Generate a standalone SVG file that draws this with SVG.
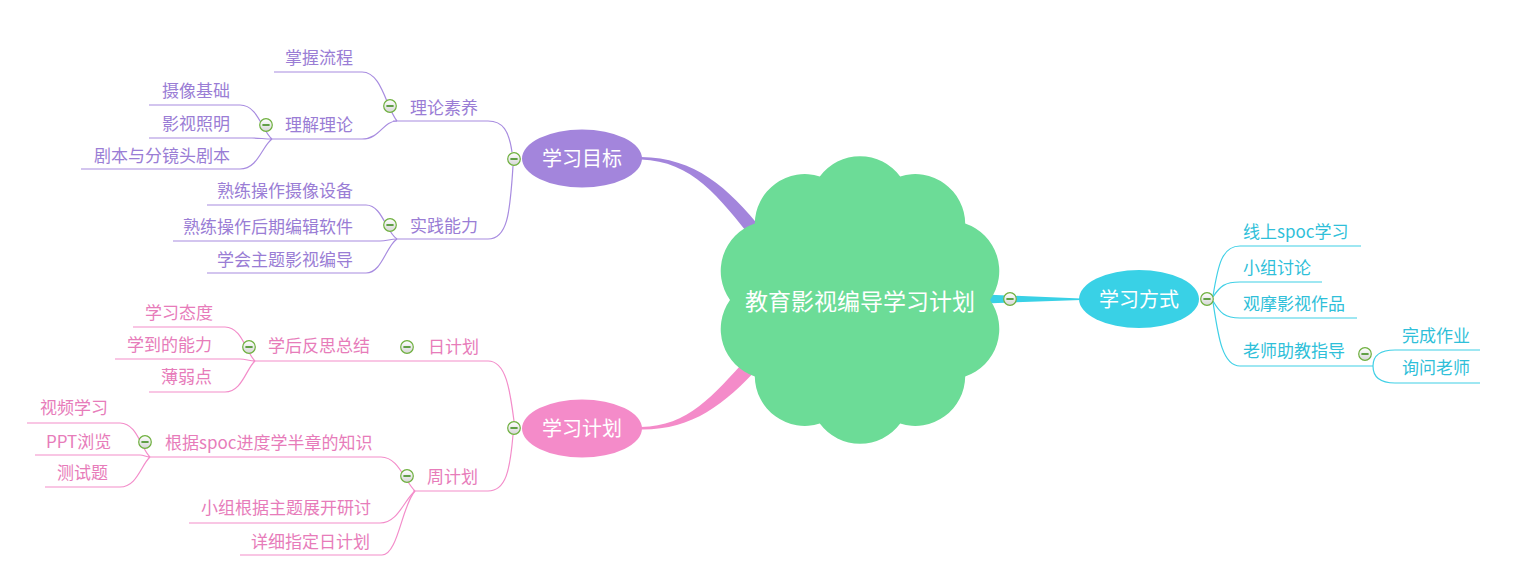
<svg xmlns="http://www.w3.org/2000/svg" xmlns:xlink="http://www.w3.org/1999/xlink" width="1519" height="581" viewBox="0 0 1519 581">
<style>
text{font-family:"Noto Sans CJK SC","Noto Sans",sans-serif;}
.t{font-size:17px;}
.tp{fill:#9a7dd5;}
.tk{fill:#e77cba;}
.tc{fill:#2fbfd9;}
.big{font-size:20px;fill:#ffffff;text-anchor:middle;}
.lp{fill:none;stroke:#a88ce0;stroke-width:1.2;}
.lk{fill:none;stroke:#f38dca;stroke-width:1.2;}
.lc{fill:none;stroke:#3fd0e6;stroke-width:1.2;}
</style>
<defs>
<linearGradient id="cg" x1="0" y1="0" x2="0" y2="1">
<stop offset="0" stop-color="#ffffff"/>
<stop offset="1" stop-color="#d6d6d6"/>
</linearGradient>
<g id="col">
<circle cx="0" cy="0" r="6.3" fill="url(#cg)" stroke="#6fb03f" stroke-width="1.2"/>
<line x1="-3.6" y1="0" x2="3.6" y2="0" stroke="#3f8d1e" stroke-width="1.6"/>
</g>
</defs>
<rect width="1519" height="581" fill="#ffffff"/>

<g id="connectors">
<!-- main tapered branches -->
<path d="M641,157 C695,158 727,186 764,232 L754,241 C719,197 692,161 641,159.5 Z" fill="#a385dc"/>
<path d="M641,427 C688,426 713,396 748,357 L760,366 C724,405 692,430 641,429.5 Z" fill="#f48bc9"/>
<path d="M985,294.5 L1081,298.5 L1081,300 L985,303.5 Z" fill="#39d1e6"/>

<!-- purple subtree -->
<path class="lp" d="M393,121 H488 C503,121 509,131 512,152"/>
<path class="lp" d="M397,239 H488 C507,239 510,215 513,166"/>
<path class="lp" d="M274,72 H362 C382,72 386,108 397,121"/>
<path class="lp" d="M270,139 H362 C380,139 383,121 397,121"/>
<path class="lp" d="M149,105 H240 C258,105 262,131 272,139"/>
<path class="lp" d="M149,138 H252 C260,138 264,139 272,139"/>
<path class="lp" d="M81,169 H240 C258,169 262,146 272,139"/>
<path class="lp" d="M207,205 H366 C382,205 386,232 397,239"/>
<path class="lp" d="M173,241 H380 C387,241 390,239 397,239"/>
<path class="lp" d="M207,273 H366 C382,273 386,246 397,239"/>

<!-- pink subtree -->
<path class="lk" d="M253,361 H488 C506,361 510,390 514,421"/>
<path class="lk" d="M413,491 H488 C506,491 510,470 513,435"/>
<path class="lk" d="M133,327 H225 C242,327 246,353 255,361"/>
<path class="lk" d="M115,359 H240 C246,359 249,361 255,361"/>
<path class="lk" d="M149,392 H225 C242,392 246,369 255,361"/>
<path class="lk" d="M148,457 H381 C398,457 404,480 415,491"/>
<path class="lk" d="M189,523 H380 C398,523 404,500 415,491"/>
<path class="lk" d="M240,555 H382 C398,555 402,505 415,491"/>
<path class="lk" d="M27,423 H120 C137,423 141,449 150,457"/>
<path class="lk" d="M35,455 H140 C144,455 146,457 150,457"/>
<path class="lk" d="M45,487 H120 C137,487 141,465 150,457"/>

<!-- cyan subtree -->
<path class="lc" d="M1213,296 C1218,265 1222,246 1240,246 H1361"/>
<path class="lc" d="M1213,297 C1220,286 1225,282 1240,282 H1322"/>
<path class="lc" d="M1213,301 C1220,313 1225,318 1240,318 H1357"/>
<path class="lc" d="M1213,302 C1218,335 1222,366 1240,366 H1373"/>
<path class="lc" d="M1480,350 H1395 C1380,350 1373,355 1373,366 C1373,377 1380,383 1395,383 H1480"/>
</g>

<g id="central">
<path d="M990,300 A50,50 0 0 1 965.2,376.4 A50,50 0 0 1 900.2,423.6 A50,50 0 0 1 819.8,423.6 A50,50 0 0 1 754.8,376.4 A50,50 0 0 1 730,300 A50,50 0 0 1 754.8,223.6 A50,50 0 0 1 819.8,176.4 A50,50 0 0 1 900.2,176.4 A50,50 0 0 1 965.2,223.6 A50,50 0 0 1 990,300 Z" fill="#6cdc97"/>
<text x="860" y="310" style="font-size:23px;fill:#ffffff;text-anchor:middle;">教育影视编导学习计划</text>
</g>

<g id="n-mubiao">
<ellipse cx="582" cy="158.5" rx="60" ry="29" fill="#a385dc"/>
<text class="big" x="582" y="166">学习目标</text>
</g>
<g id="n-jihua">
<ellipse cx="582" cy="428.5" rx="60" ry="29" fill="#f48bc9"/>
<text class="big" x="582" y="435.5">学习计划</text>
</g>
<g id="n-fangshi">
<ellipse cx="1139" cy="299" rx="60" ry="29" fill="#39d1e6"/>
<text class="big" x="1139" y="307">学习方式</text>
</g>

<g id="n-lilun"><text class="t tp" x="410" y="114">理论素养</text></g>
<g id="n-zhangwo"><text class="t tp" x="285" y="64">掌握流程</text></g>
<g id="n-lijie"><text class="t tp" x="285" y="131">理解理论</text></g>
<g id="n-shexiang"><text class="t tp" x="162" y="97">摄像基础</text></g>
<g id="n-zhaoming"><text class="t tp" x="162" y="130">影视照明</text></g>
<g id="n-juben"><text class="t tp" x="94" y="162">剧本与分镜头剧本</text></g>
<g id="n-shijian"><text class="t tp" x="410" y="232">实践能力</text></g>
<g id="n-shebei"><text class="t tp" x="217" y="197">熟练操作摄像设备</text></g>
<g id="n-ruanjian"><text class="t tp" x="183" y="233">熟练操作后期编辑软件</text></g>
<g id="n-biandao"><text class="t tp" x="217" y="266">学会主题影视编导</text></g>

<g id="n-ri"><text class="t tk" x="428" y="353">日计划</text></g>
<g id="n-fansi"><text class="t tk" x="268" y="352">学后反思总结</text></g>
<g id="n-taidu"><text class="t tk" x="145" y="319">学习态度</text></g>
<g id="n-nengli"><text class="t tk" x="127" y="351">学到的能力</text></g>
<g id="n-boruo"><text class="t tk" x="161" y="383">薄弱点</text></g>
<g id="n-zhou"><text class="t tk" x="427" y="483">周计划</text></g>
<g id="n-spoc"><text class="t tk" x="165" y="449">根据spoc进度学半章的知识</text></g>
<g id="n-shipin"><text class="t tk" x="40" y="414">视频学习</text></g>
<g id="n-ppt"><text class="t tk" x="46" y="448">PPT浏览</text></g>
<g id="n-ceshi"><text class="t tk" x="57" y="479">测试题</text></g>
<g id="n-yantao"><text class="t tk" x="201" y="514">小组根据主题展开研讨</text></g>
<g id="n-xiangxi"><text class="t tk" x="251" y="548">详细指定日计划</text></g>

<g id="n-xianshang"><text class="t tc" x="1243" y="238">线上spoc学习</text></g>
<g id="n-taolun"><text class="t tc" x="1243" y="274">小组讨论</text></g>
<g id="n-guanmo"><text class="t tc" x="1243" y="310">观摩影视作品</text></g>
<g id="n-laoshi"><text class="t tc" x="1243" y="357">老师助教指导</text></g>
<g id="n-zuoye"><text class="t tc" x="1402" y="342">完成作业</text></g>
<g id="n-xunwen"><text class="t tc" x="1402" y="374">询问老师</text></g>

<g id="collapse-buttons">
<use xlink:href="#col" x="1010" y="299"/>
<use xlink:href="#col" x="1207" y="299"/>
<use xlink:href="#col" x="1365" y="354"/>
<use xlink:href="#col" x="514" y="159"/>
<use xlink:href="#col" x="390" y="106"/>
<use xlink:href="#col" x="266" y="125"/>
<use xlink:href="#col" x="390" y="225"/>
<use xlink:href="#col" x="514" y="428"/>
<use xlink:href="#col" x="407" y="347"/>
<use xlink:href="#col" x="249" y="347"/>
<use xlink:href="#col" x="145" y="442"/>
<use xlink:href="#col" x="407" y="476"/>
</g>
</svg>
